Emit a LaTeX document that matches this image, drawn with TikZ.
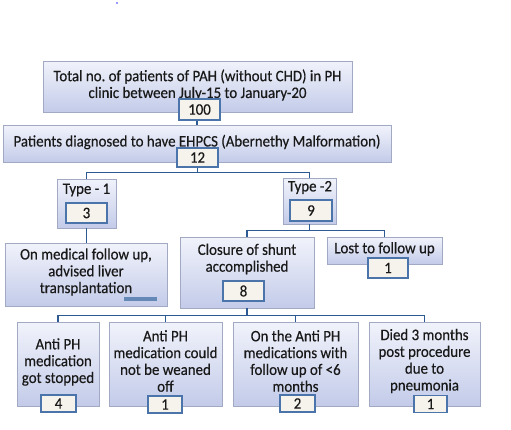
\documentclass[tikz,border=0pt]{standalone}
\usepackage{fontspec}
\setmainfont{Carlito}[FakeStretch=0.93, FakeBold=0.4]
\usetikzlibrary{positioning, shadows}

\definecolor{boxtop}{HTML}{F1F3FB}
\definecolor{boxbot}{HTML}{C3CBE9}
\definecolor{boxline}{HTML}{A2A9C2}
\definecolor{cntfill}{HTML}{F6F2EC}
\definecolor{cntline}{HTML}{4A74AA}
\definecolor{linkblue}{HTML}{2D5A93}

\begin{document}
\begin{tikzpicture}[x=1pt, y=-1pt,
    stage/.style={draw=boxline, line width=0.8pt, top color=boxtop, bottom color=boxbot, inner sep=0pt,
        drop shadow={shadow xshift=1.3pt, shadow yshift=-1.3pt, fill=black!40, opacity=0.5}},
    count/.style={draw=cntline, line width=1.1pt, fill=cntfill, inner sep=0pt, minimum height=20pt,
        font=\fontsize{16}{16}\selectfont, text=black!90},
    txt/.style={align=center, inner sep=0pt, font=\fontsize{16}{16.8}\selectfont, text=black!90},
    link/.style={draw=linkblue, line width=1.6pt}]
    \useasboundingbox (0,0) rectangle (511,429);
    \fill[blue!80] (117,3) circle (0.8);
    % Boxes
    \node[stage, minimum width=309pt, minimum height=51pt] (total) at (197.5,86.5) {};
    \node[stage, minimum width=388pt, minimum height=37pt] (ehpcs) at (197,143.5) {};
    \node[stage, minimum width=59pt, minimum height=49pt] (type1) at (86.5,203.5) {};
    \node[stage, minimum width=53pt, minimum height=46pt] (type2) at (309.5,201) {};
    \node[stage, minimum width=162pt, minimum height=63pt] (medical) at (86,274.5) {};
    \node[stage, minimum width=134pt, minimum height=71pt] (closure) at (247,272.5) {};
    \node[stage, minimum width=115pt, minimum height=27pt] (lost) at (384.5,250.5) {};
    \node[stage, minimum width=82pt, minimum height=84pt] (stopped) at (58,364) {};
    \node[stage, minimum width=113pt, minimum height=84pt] (weaned) at (165.5,364) {};
    \node[stage, minimum width=125pt, minimum height=84pt] (followup) at (295.5,364) {};
    \node[stage, minimum width=111pt, minimum height=84pt] (died) at (424.5,364) {};
    \fill[cntline!85] (124,297) rectangle (157,300.5);
    % Texts
    \node[txt] (totaltxt) at (197.5,85) {Total no.\ of patients of PAH (without CHD) in PH\\clinic between July-15 to January-20};
    \node[txt] (ehpcstxt) at (197,142) {Patients diagnosed to have EHPCS (Abernethy Malformation)};
    \node[txt] (type1txt) at (86.5,190) {Type - 1};
    \node[txt] (type2txt) at (310,187.5) {Type -2};
    \node[txt] (medicaltxt) at (86,272) {On medical follow up,\\advised liver\\transplantation};
    \node[txt] (closuretxt) at (247,259) {Closure of shunt\\accomplished};
    \node[txt] (losttxt) at (384.5,249) {Lost to follow up};
    \node[txt] (stoppedtxt) at (58,362) {Anti PH\\medication\\got stopped};
    \node[txt] (weanedtxt) at (165.5,361) {Anti PH\\medication could\\not be weaned\\off};
    \node[txt] (followuptxt) at (295.5,361) {On the Anti PH\\medications with\\follow up of <6\\months};
    \node[txt] (diedtxt) at (424.5,361) {Died 3 months\\post procedure\\due to\\pneumonia};
    % Counts
    \node[count, minimum width=41pt, minimum height=21pt] (n100) at (199.5,109.5) {100};
    \node[count, minimum width=41pt, minimum height=19pt] (n12) at (197.5,157.5) {12};
    \node[count, minimum width=41pt] (n3) at (86.5,213) {3};
    \node[count, minimum width=42pt, minimum height=21pt] (n9) at (311,210.5) {9};
    \node[count, minimum width=41pt] (n8) at (243.5,291) {8};
    \node[count, minimum width=40pt] (n1a) at (388,268) {1};
    \node[count, minimum width=35pt, minimum height=17pt] (n4) at (58.5,403.5) {4};
    \node[count, minimum width=34pt, minimum height=17pt] (n1b) at (165,404.5) {1};
    \node[count, minimum width=35pt, minimum height=17pt] (n2) at (297.5,403.5) {2};
    \node[count, minimum width=33pt, minimum height=17pt] (n1c) at (430.5,404) {1};
    % Connectors
    \draw[link] (n100.south -| ehpcs.north) -- (ehpcs.north);
    \draw[link] (n12.south) -- ++(0,5) -| (type1.north);
    \draw[link] (n12.south) -- ++(0,5) -| (type2.north);
    \draw[link] (type1.south) -- (type1.south |- medical.north);
    \draw[link] (type2.south) -- ++(0,6) -| (closure.north);
    \draw[link] (type2.south) -- ++(0,6) -| (lost.north);
    \foreach \b in {stopped, weaned, followup, died}
        \draw[link] (closure.south) -- ++(0,7) -| (\b.north);
\end{tikzpicture}
\end{document}
